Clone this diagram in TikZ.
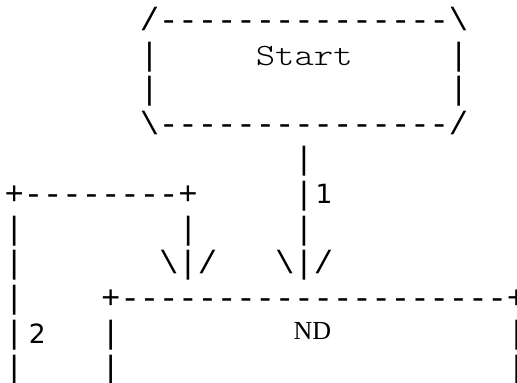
\documentclass[tikz,border=0pt]{standalone}
\usepackage{fontspec}
\setmonofont{Liberation Mono}
\newfontfamily\labelfont{DejaVu Sans}
\newfontfamily\namefont{lmmonolt10-regular.otf}[FakeStretch=1.19]
\newfontfamily\ndfont{Liberation Serif}
\usepackage{tikz}

\tikzset{
    glyphs/.style={font=\ttfamily\fontsize{32.2}{34.8}\selectfont,
        inner sep=0pt, anchor=base west},
    startname/.style={glyphs, font=\namefont\fontsize{31}{34.8}\selectfont},
    ndname/.style={inner sep=0pt, anchor=base, font=\ndfont\fontsize{26}{30}\selectfont},
    number/.style={inner sep=0pt, anchor=base, font=\labelfont\fontsize{26.5}{30}\selectfont}
}
% one run of characters, placed on the character grid (column, line)
\newcommand{\cell}[4]{\node[glyphs] (#1) at ({4.33+19.33*#2},{-30.2-34.8*#3}) {#4};}
% a text centred on a grid column
\newcommand{\centred}[5]{\node[#1] (#2) at ({4.33+19.33*#3},{-30.2-34.8*#4}) {#5};}

\begin{document}
\begin{tikzpicture}[x=1pt, y=1pt]
    \useasboundingbox (0,0) rectangle (517,-383);
    % start box
    \cell{starttop}{7}{0}{/---------------\textbackslash}
    \cell{startl1}{7}{1}{|}
    \node[startname] (start) at ({4.33+19.33*13},{-30.2-34.8*1}) {Start};
    \cell{startr1}{23}{1}{|}
    \cell{startl2}{7}{2}{|}
    \cell{startr2}{23}{2}{|}
    \cell{startbot}{7}{3}{\textbackslash---------------/}
    % edge 1
    \cell{e1a}{15}{4}{|}
    \cell{e1b}{15}{5}{|}
    \centred{number}{one}{16.54}{4.97}{1}
    \cell{e1c}{15}{6}{|}
    \cell{e1tip}{14}{7}{\textbackslash|/}
    % edge 2, loop back from below
    \cell{e2top}{0}{5}{+--------+}
    \cell{e2a}{0}{6}{|}
    \cell{e2b}{9}{6}{|}
    \cell{e2c}{0}{7}{|}
    \cell{e2tip}{8}{7}{\textbackslash|/}
    \cell{e2d}{0}{8}{|}
    \cell{e2e}{0}{9}{|}
    \centred{number}{two}{1.7}{9}{2}
    \cell{e2f}{0}{10}{|}
    % ND box
    \cell{ndtop}{5}{8}{+--------------------+}
    \cell{ndl1}{5}{9}{|}
    \centred{ndname}{nd}{15.94}{8.9}{ND}
    \cell{ndr1}{26}{9}{|}
    \cell{ndl2}{5}{10}{|}
    \cell{ndr2}{26}{10}{|}
\end{tikzpicture}
\end{document}
